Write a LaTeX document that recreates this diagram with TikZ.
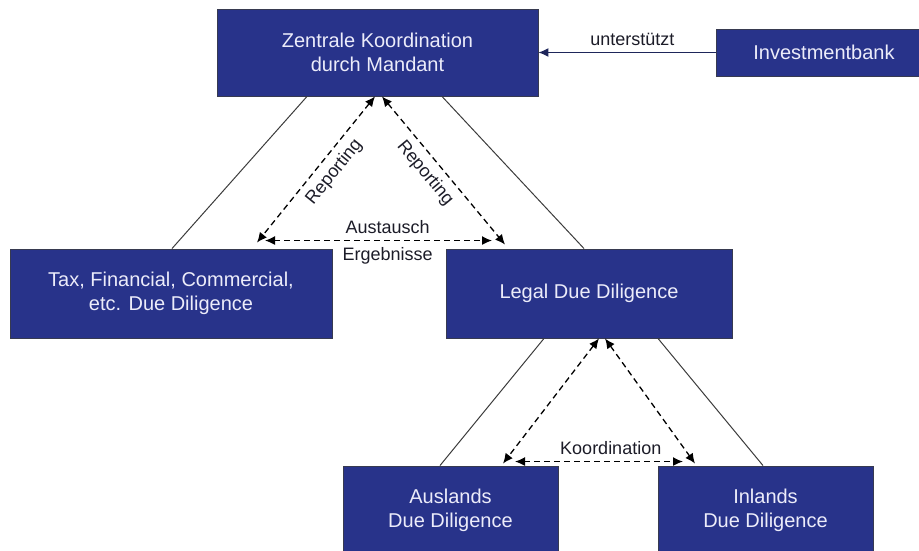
\documentclass[tikz,border=0pt]{standalone}
\usepackage{fontspec}
\setmainfont{Liberation Sans}
\usetikzlibrary{arrows,arrows.meta}
\definecolor{boxblue}{RGB}{40,51,138}
\definecolor{boxline}{RGB}{55,58,80}
\definecolor{boxtext}{RGB}{236,236,250}
\definecolor{lbltext}{RGB}{28,28,40}
\definecolor{linegray}{RGB}{60,60,60}
\definecolor{navyline}{RGB}{30,38,90}
\tikzset{
	box/.style={draw=boxline, line width=0.9pt, fill=boxblue, text=boxtext, align=center,
		inner sep=0pt, font=\fontsize{20}{24}\selectfont},
	lbl/.style={text=lbltext, font=\fontsize{18}{21}\selectfont},
	link/.style={color=linegray, line width=1pt},
	dasharrow/.style={color=black, line width=1.3pt, dash pattern=on 6pt off 4pt,
		{Latex[length=10pt,width=9pt]}-{Latex[length=10pt,width=9pt]}}
}
\begin{document}
\begin{tikzpicture}[x=1pt, y=-1pt]
	\useasboundingbox (0,0) rectangle (919,551);
	% boxes
	\node[box, minimum width=321, minimum height=87] (zk) at (377.5,52.5)
		{Zentrale Koordination\\durch Mandant};
	\node[box, minimum width=216, minimum height=47] (ib) at (824,52.5) {Investmentbank};
	\node[box, minimum width=322, minimum height=89] (tax) at (171,293.5)
		{Tax, Financial, Commercial,\\etc. Due Diligence};
	\node[box, minimum width=286, minimum height=89] (legal) at (589,293.5) {Legal Due Diligence};
	\node[box, minimum width=215, minimum height=88] (ausl) at (450.5,510) {Auslands\\Due Diligence};
	\node[box, minimum width=215, minimum height=88] (inl) at (765.5,510) {Inlands\\Due Diligence};
	% solid lines
	\path[link]
	([xshift=-70.5pt]zk.south) edge ([xshift=1pt]tax.north)
	([xshift=64.5pt]zk.south) edge ([xshift=-5pt]legal.north)
	([xshift=-45pt]legal.south) edge ([xshift=-10.5pt]ausl.north)
	([xshift=69pt]legal.south) edge ([xshift=-2.5pt]inl.north);
	\path[color=navyline, line width=1.2pt, -{Latex[length=10pt,width=9pt]}]
	(ib.west) edge node[lbl, above, inner sep=6pt, pos=0.47]{unterstützt} (zk.east);
	% dashed arrows
	\path[dasharrow]
	([xshift=-2.5pt]zk.south) edge node[lbl, sloped, below, pos=0.45, inner sep=7pt]{Reporting} ([xshift=86pt,yshift=6pt]tax.north)
	([xshift=4.5pt]zk.south) edge node[lbl, sloped, below, pos=0.45, inner sep=7pt]{Reporting} ([xshift=-84pt,yshift=4pt]legal.north)
	([xshift=94pt,yshift=8pt]tax.north) edge
		node[lbl, above, pos=0.54, inner sep=6pt]{Austausch}
		node[lbl, below, pos=0.54, inner sep=6pt]{Ergebnisse} ([xshift=-97pt,yshift=8pt]legal.north)
	([xshift=10pt]legal.south) edge ([xshift=52.5pt,yshift=2pt]ausl.north)
	([xshift=16pt]legal.south) edge ([xshift=-70.5pt,yshift=2pt]inl.north)
	([xshift=64.5pt,yshift=4pt]ausl.north) edge node[lbl, above, pos=0.57, inner sep=6pt]{Koordination} ([xshift=-82.5pt,yshift=4pt]inl.north);
\end{tikzpicture}
\end{document}
